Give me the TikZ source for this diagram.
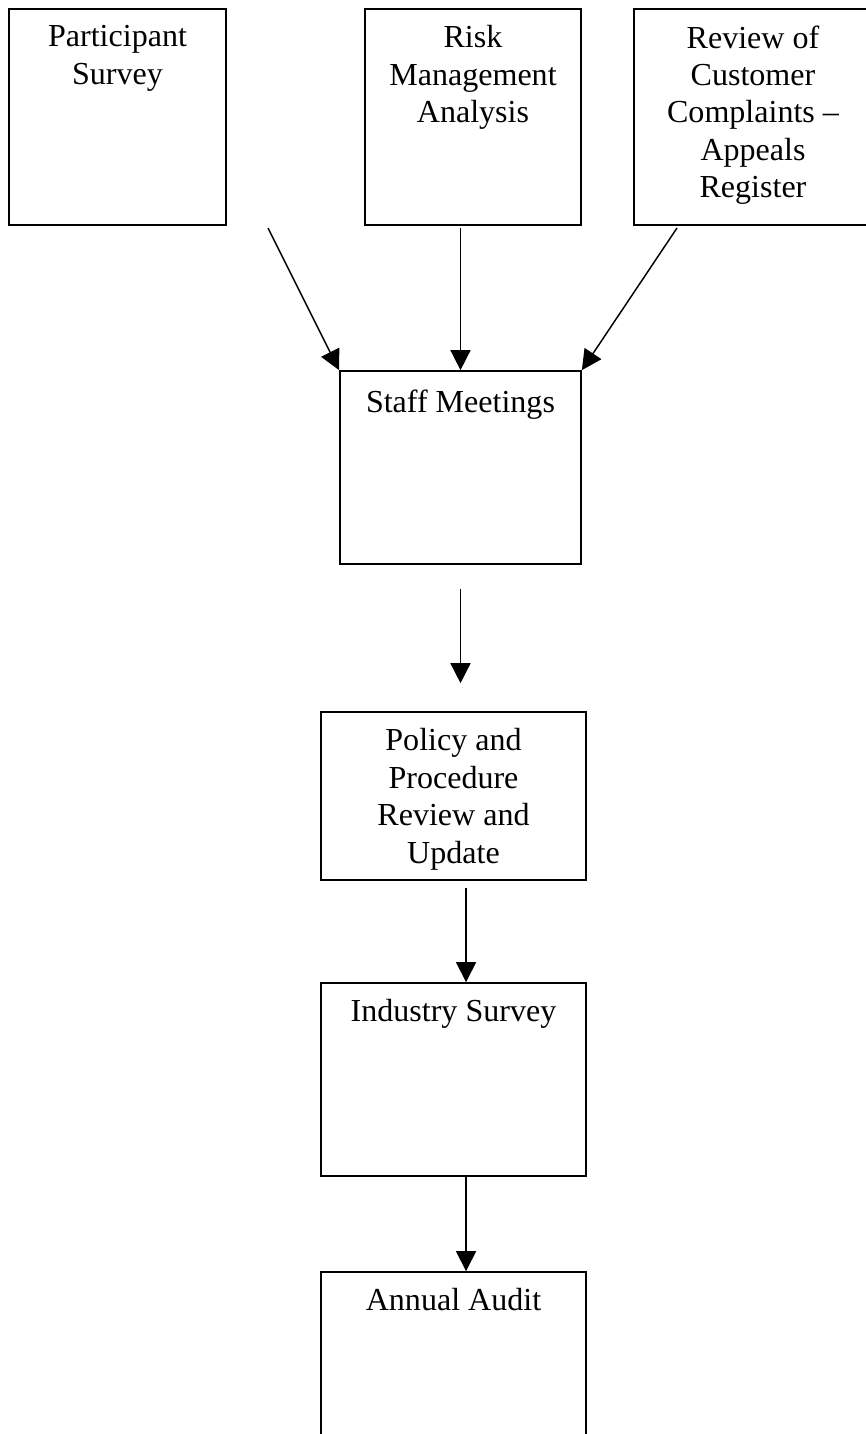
\documentclass[tikz,border=0pt]{standalone}
\usepackage{fontspec}
\setmainfont{Liberation Serif}
\usepackage{tikz}
\usetikzlibrary{arrows.meta,positioning}

\begin{document}
\begin{tikzpicture}[x=0.3745pt, y=-0.3745pt, >={Triangle[length=7.5pt,width=7.5pt]},
  box/.style={draw, line width=0.6pt, inner sep=0pt},
  txt/.style={anchor=north, align=center, yshift=-3pt, font=\fontsize{12}{14}\selectfont},
  arr/.style={->, line width=0.55pt}]
  \useasboundingbox (0,0) rectangle (866,1434);

  % Top row of sources
  \node[box, minimum width=81.3pt, minimum height=80.9pt,
    label={[txt]north:{Participant\\Survey}}] (ps) at (117.5,117) {};
  \node[box, minimum width=80.9pt, minimum height=80.9pt,
    label={[txt]north:{Risk\\Management\\Analysis}}] (rma) at (473,117) {};
  \node[box, minimum width=89.1pt, minimum height=80.9pt,
    label={[txt]north:{Review of\\Customer\\Complaints --\\Appeals\\Register}}] (rcc) at (753,117) {};

  % Main chain
  \node[box, minimum width=90.3pt, minimum height=72.3pt,
    label={[txt, yshift=-1pt]north:{Staff Meetings}}] (sm) at (460.5,467.5) {};
  \node[box, minimum width=99.2pt, minimum height=62.9pt,
    label={[txt]north:{Policy and\\Procedure\\Review and\\Update}}] (pp) at (453.5,796) {};
  \node[box, minimum width=99.2pt, minimum height=72.3pt,
    label={[txt]north:{Industry Survey}}] (is) at (453.5,1079.5) {};
  \node[box, minimum width=99.2pt, minimum height=72.3pt,
    label={[txt]north:{Annual Audit}}] (aa) at (453.5,1368.5) {};

  % free ends of the slanted arrows
  \coordinate (ps-out) at (268,228);
  \coordinate (rcc-out) at (677,228);

  % Arrows
  \draw[arr] (ps-out) -- (sm.north west);
  \draw[arr, shorten <=1pt] (rma.south -| sm.north) -- (sm.north);
  \draw[arr] (rcc-out) -- (sm.north east);
  \draw[arr, shorten <=9pt, shorten >=10.5pt] (sm.south) -- (sm.south |- pp.north);
  \draw[arr, shorten <=2.6pt] ([xshift=4.7pt]pp.south) -- ([xshift=4.7pt]is.north);
  \draw[arr] ([xshift=4.7pt]is.south) -- ([xshift=4.7pt]aa.north);
\end{tikzpicture}
\end{document}
